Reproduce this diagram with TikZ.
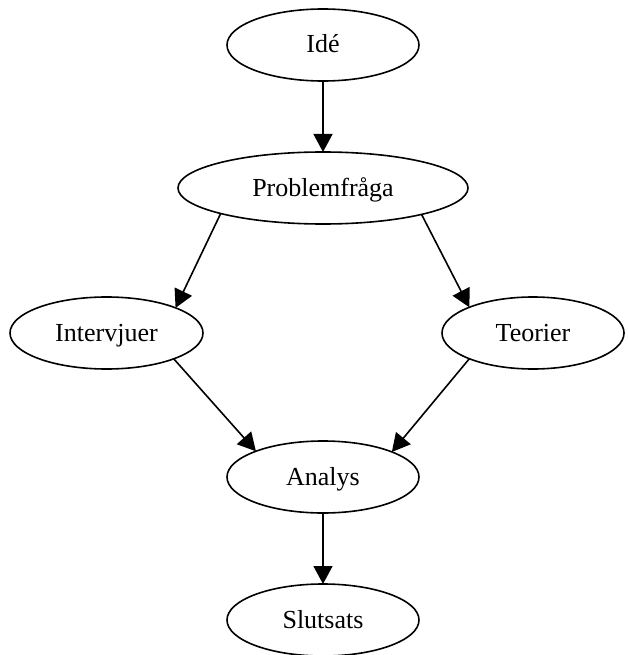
\documentclass[tikz,border=0pt]{standalone}
\usepackage{fontspec}
\setmainfont{Liberation Serif}
\usetikzlibrary{arrows.meta,shapes.geometric}
\begin{document}
\begin{tikzpicture}[x=1pt,y=-1pt,
  nd/.style={ellipse,draw,line width=1.6pt,inner sep=0pt,outer sep=0pt,
    minimum height=72pt,text height=20pt,text depth=4pt,font=\fontsize{26}{30}\selectfont},
  arr/.style={line width=1.6pt,-{Triangle[length=18pt,width=19pt]}}]
\useasboundingbox (0,0) rectangle (627,655);
\node[nd,minimum width=192pt] (ide) at (323,45) {Idé};
\node[nd,minimum width=290pt] (prob) at (323,188) {Problemfråga};
\node[nd,minimum width=193pt] (int) at (106.5,333) {Intervjuer};
\node[nd,minimum width=182pt] (teo) at (533,333) {Teorier};
\node[nd,minimum width=192pt] (ana) at (323,477) {Analys};
\node[nd,minimum width=192pt] (slu) at (323,620) {Slutsats};
\draw[arr] (ide.south) -- (prob.north);
\draw[arr] (prob.194.7) -- (int.20.05);
\draw[arr] (prob.345.2) -- (teo.158.4);
\draw[arr] (int.339.2) -- (ana.159.4);
\draw[arr] (teo.202.4) -- (ana.20.6);
\draw[arr] (ana.south) -- (slu.north);
\end{tikzpicture}
\end{document}
